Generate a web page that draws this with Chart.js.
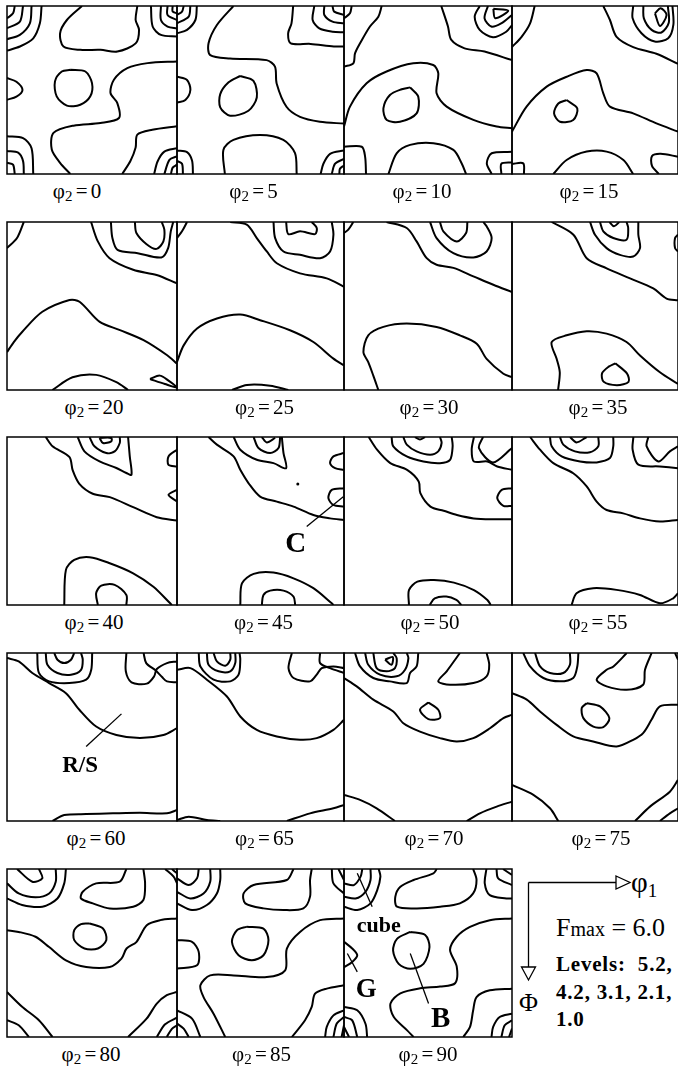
<!DOCTYPE html>
<html>
<head>
<meta charset="utf-8">
<title>ODF sections</title>
<script src="https://cdn.jsdelivr.net/npm/chart.js@4.4.0/dist/chart.umd.min.js"></script>
<style>
  body { margin: 0; background: #fff; }
  #page { position: relative; width: 678px; height: 1070px; overflow: hidden; font-family: "Liberation Serif", "Times New Roman", serif; color: #000; }
  .panel { position: absolute; }
  .cap { position: absolute; font-size: 21px; line-height: 21px; text-align: center; white-space: nowrap; word-spacing: -2px; }
  .cap sub { font-size: 15px; line-height: 0; vertical-align: -3px; }
  .note { position: absolute; font-weight: bold; line-height: 1; white-space: nowrap; transform: translate(-50%, -50%); }
  .legend { position: absolute; white-space: nowrap; line-height: 1; }
</style>
</head>
<body>
<div id="page">
  <svg width="678" height="1070" style="position:absolute;left:0;top:0">
    <g stroke="#000" stroke-width="1.3" fill="#fff">
      <line x1="528.5" y1="882.5" x2="616" y2="882.5"/>
      <polygon points="616,876 630,882.5 616,889"/>
      <line x1="528.5" y1="882.5" x2="528.5" y2="967"/>
      <polygon points="521.5,967 528.5,980 535.5,967"/>
    </g>
  </svg>
  <div class="legend" style="left:631px;top:868px;font-size:29px">φ<span style="font-size:19px;position:relative;top:5px">1</span></div>
  <div class="legend" style="left:556px;top:915px;font-size:26px">F<span style="font-size:20px">max</span> = <span id="fmax"></span></div>
  <div class="legend" id="levels" style="left:556px;top:951px;font-size:21px;font-weight:bold;line-height:27.5px;letter-spacing:0.8px"></div>
  <div class="legend" style="left:519px;top:990px;font-size:26px">Φ</div>
</div>
<script>
// constant-φ2 sections, step 5°
const phi2Sections = [0, 5, 10, 15, 20, 25, 30, 35, 40, 45, 50, 55, 60, 65, 70, 75, 80, 85, 90];
const fMax = 6.0;
const levels = [5.2, 4.2, 3.1, 2.1, 1.0];

// iso-lines per section, each one a flat list of φ1, Φ pairs (degrees)
const sec0 = [
    [18.3,0, 17.4,9.3, 13.9,17.3, 6.8,21.7, 0,23.9],
    [13,0, 12.1,9.3, 6.8,15.5, 0,17.8],
    [8.5,0, 6.8,8.4, 0,11.9],
    [4.1,0, 3.2,3.9, 0,6.6],
    [39.7,0, 31.7,7.5, 28.1,14.6, 29.9,21.7, 38.8,23.5, 49.5,23.5, 58.4,24.4, 68.1,20, 69.9,12.8, 68.1,7.5, 69,0],
    [76.2,0, 77.1,11, 81.5,15.5, 90,16.4],
    [81.5,0, 81.5,7.5, 85,11, 90,12],
    [85,0, 85,4.8, 90,7.5],
    [87.7,0, 87.7,3, 90,3.9],
    [0,38.6, 5,40.6, 8.2,45, 5,48.6, 0,50.2],
    [33.5,34.2, 41.5,35.1, 45,41.3, 44.1,48.4, 38.8,52.9, 31.7,53.4, 26.3,48.4, 25.4,40.4, 29,35.1, 33.5,34.2],
    [90,29.7, 74.4,30.6, 63.7,33.3, 56.6,39.5, 54.8,46.6, 58.4,52, 59.3,60, 49.5,62.7, 35.2,64.1, 24.6,68, 23.7,76.9, 28.1,84, 33.5,90],
    [90,64.4, 76.9,66.3, 69,68.9, 68.1,75.8, 65.4,82.9, 61,90],
    [0,69.8, 8.5,70.8, 13,76.2, 13.9,90],
    [0,77.7, 5.9,78.6, 8.5,83.1, 8.9,90],
    [0,84, 3.2,85, 4.1,90],
    [90,76.2, 83.3,78, 79.7,83.3, 77.9,90],
    [90,80.6, 86,82.4, 83.3,90],
    [90,85, 87.7,86.6, 86.8,90]
];
const sec5 = [
    [10.7,0, 9.9,7.5, 5.4,12.8, 0,14.6],
    [7.2,0, 6.3,5.7, 0,9.3],
    [3.6,0, 2.7,3, 0,4.8],
    [30.4,0, 21.5,10.2, 17,20, 17.9,26.3, 28.6,28.1, 48.3,29, 52.8,32.5, 53.7,41.5, 59,54, 66.3,59.4, 77,62, 90,63],
    [62.6,0, 61.7,9.3, 59.9,14.6, 61.3,20, 72,20.3, 84.5,21.7, 90,21.7],
    [74,0, 73.1,7.5, 76.7,12, 83.8,13.8, 90,14.1],
    [79.4,0, 79.4,4.8, 83.8,8.4, 90,9.3],
    [83.8,0, 84.7,3, 90,4.8],
    [0,37.9, 5.4,39.6, 7.2,45, 4.5,50.4, 0,51.8],
    [34,37.5, 41.2,40.1, 43,49, 38.5,56.1, 28.6,58.8, 23.3,54.3, 23.3,47.2, 27.8,40.9, 34,37.5],
    [25.8,90, 25,77.1, 30.4,71.7, 44.8,69.1, 57.3,71.7, 63.6,78.8, 64.5,90],
    [0,77.4, 5.4,78.3, 8.1,82.8, 8.6,90],
    [0,83, 2.7,84.5, 3.2,90],
    [90,77.4, 82.5,79.2, 78.9,84.5, 77.4,90],
    [90,81.9, 85.2,84.5, 83.4,90],
    [90,85.4, 87.8,87.2, 87.5,90]
];
const sec10 = [
    [20.2,0, 18.4,5.7, 13.9,11, 8.6,20, 5.9,25.4, 5,30.7, 0,32.5],
    [4.1,0, 3.2,3.9, 0,6.6],
    [52.1,0, 55.7,11, 57.5,18.2, 64.6,22.7, 75.3,24.4, 90,29],
    [72.7,0, 70,5.7, 72.7,12.8, 79.8,16.8, 86.9,13.8, 90,10.2],
    [77.1,0, 75.3,6.6, 78.9,11, 84.2,9.3, 90,4.8],
    [80,1.5, 81,6.5, 88,2.5, 80,1.5],
    [0,64.6, 3.2,53.9, 12.1,41.4, 22.8,35.1, 37.1,30.7, 47.8,31.6, 50.5,36, 49.6,46.8, 55,53.9, 69.3,61, 81.8,64.6, 90,65.5],
    [35.4,43.6, 39.8,48.6, 38.9,57.5, 30,62, 22.9,61.1, 21.1,54.9, 24.6,47.7, 30.9,44.6, 35.4,43.6],
    [23.8,90, 28.2,78.9, 35.4,74.4, 47.9,73.5, 58.6,77.1, 63,84.2, 65.4,90],
    [0,75.4, 9.5,75.4, 11.3,80.7, 11.8,90],
    [90,78.1, 79.1,78.9, 76.5,84.2, 79.1,90],
    [84.3,90, 84.3,84.5, 90,83.8]
];
const sec15 = [
    [12.3,0, 9.8,9.3, 5.2,16.5, 0,22],
    [49.5,0, 53.1,7.5, 56.7,16.5, 65.7,22, 78.3,25.6, 90,31],
    [65.7,0, 65.4,6.6, 70.2,14.6, 77.4,19, 84.7,17.3, 87.5,10, 87,0],
    [71.2,0, 71.5,6.6, 75.7,12.8, 81,14.2, 85,9, 84.5,0],
    [77.5,3.9, 80.2,10.7, 83.8,4.8, 80.6,1.2, 77.5,3.9],
    [0,67.3, 7.9,53.9, 18.8,43.2, 29.6,37.9, 40.5,34.3, 45.9,36.1, 49.5,46.8, 53.1,53.9, 65.7,57.5, 78.3,62.9, 90,67.3],
    [29.6,50.4, 35.4,54.9, 33.2,61.1, 26,62, 22.8,57.5, 25.1,52.2, 29.6,50.4],
    [22.4,90, 29.6,82.5, 40.5,78, 51.3,78, 60.4,82.5, 65.7,90],
    [0,84.6, 6.1,84.3, 6.5,90],
    [90,80.7, 80.6,79.2, 75.9,80.4, 75.9,85.7, 79.6,90]
];
const sec20 = [
    [8.9,0, 5.3,8.6, 0,14],
    [44.5,0, 48.1,10.4, 54.3,19.4, 66.8,25.6, 79.2,28.4, 90,32.9],
    [55,0, 55.8,8.6, 58.5,14.9, 69.2,16.7, 81.7,19, 85.3,14, 86.7,5, 88,0],
    [67.7,0, 68.5,5.9, 73.9,11.9, 79.2,14.4, 82.8,10.4, 83.3,4.1, 81.9,0],
    [0,69.7, 3.6,64.3, 8,58.9, 18.7,48.1, 33.1,41.8, 38.4,42.7, 49.1,53.5, 59.8,57.9, 72.3,63.3, 84.8,71.4, 90,75.9],
    [24,90, 34.7,83.2, 47.2,81.9, 57.9,85.8, 64.1,90],
    [75.7,84.1, 80.9,82.3, 85.5,85, 89.9,88.6, 83.6,86.8, 75.7,84.1]
];
const sec25 = [
    [5.4,0, 2.7,5, 0,8.6],
    [28.7,0, 37.6,1.4, 43,8.6, 48.4,15.8, 53.8,22.1, 66.3,27.5, 80.7,30.2, 90,34.7],
    [52,0, 52.9,8.6, 57.4,15.8, 66.3,17.6, 77.1,19.4, 82.5,15.8, 84.3,6.8, 83.4,0],
    [58.8,0, 60,6.5, 66.3,5, 74.4,6.5, 75.3,3.2, 72.6,0],
    [0,75, 3.6,66.1, 10.8,57.1, 21.5,51.7, 34.1,49.6, 44.8,52.6, 60.9,58, 73.5,64.3, 84.3,73.2, 90,76.8],
    [29.6,90, 37.7,87.3, 50.2,87.7, 60,90]
];
const sec30 = [
    [5,0, 2.3,4.1, 0,5.9],
    [22.8,0, 33.6,3.2, 38.9,10.4, 44.3,19.4, 49.6,22.9, 58.6,24.6, 69.3,29.1, 80,33.6, 90,37.5],
    [46.1,0, 49.6,8.6, 58.6,16.7, 69.3,19, 76.4,15.8, 79.1,8.6, 76.4,2.3, 74.6,0],
    [51.4,0, 53.2,5, 60.4,10.4, 65.4,5.9, 66.1,0],
    [18.4,90, 15.7,82.3, 13,75.1, 10.4,69.7, 13,60.7, 21.1,56.2, 33.6,54.4, 49.6,56.2, 62.1,60.7, 71.1,65.2, 76.4,73.3, 85.4,81.3, 90,83.1]
];
const sec35 = [
    [21.5,0, 33.3,6.8, 40.5,19.4, 51.3,24.8, 64,30.2, 76.6,35.6, 83.8,41, 90,41.9],
    [42.3,0, 45,6.8, 51.3,14, 58.5,17.6, 65.7,18.5, 69.4,14, 68.5,6.8, 68.5,0],
    [47.7,0, 49.5,5, 54.9,8.6, 62.1,9.5, 63,3.2, 62.1,0],
    [52.8,0, 55.3,2.3, 58.2,0],
    [90,6.8, 88.4,8.6, 88.4,14, 90,15.8],
    [25,90, 25.9,80.5, 24.2,73.3, 21.5,64.3, 29.6,60.7, 40.5,58.5, 51.3,59.8, 62.1,64.3, 69.4,71.5, 80.2,80.5, 90,86.8],
    [56,75.7, 62.3,81.1, 63.2,85.6, 56.9,87.4, 49.7,85.6, 48.8,81.1, 52.4,77.5, 56,75.7]
];
const sec40 = [
    [20.5,0, 24.1,5, 33,10.7, 34.8,17.9, 38.3,25.1, 45.4,30.4, 54.4,32.2, 66.8,37.6, 79.3,43, 90,44.8],
    [37.4,0, 41,7.7, 49,13.1, 57.9,16.6, 63.2,19.3, 65.9,20.2, 65,10.4, 64.1,0],
    [43.7,0, 46.3,5, 52.6,8.6, 57,7.7, 59.7,3.2, 59.7,0],
    [49,0.5, 50.8,3.2, 55.2,2.3, 55.2,0.5, 49,0.5],
    [90,6.8, 85.5,10.4, 85.5,14.9, 90,15.8],
    [90,28.3, 85.5,31, 90,34.5],
    [30.3,90, 31.2,71.2, 35.6,65.8, 43.7,64.4, 54.4,67.6, 66.8,73, 77.5,80.2, 86.4,89.1, 87.3,90],
    [48.1,90, 47.2,83.7, 49.9,79.6, 57,79.2, 63.2,84.6, 63.2,90]
];
const sec45 = [
    [17,0, 21.5,4.1, 30.5,10.4, 34.1,17.6, 38.6,24.8, 44.8,31.9, 53.8,34.6, 62.8,37.3, 73.5,41.8, 82.5,43.6, 90,44.5],
    [30.5,0, 34.1,6.8, 43,12.2, 52,14, 58.8,16.7, 57.4,8.6, 56.5,0],
    [41.3,0, 43.9,5.9, 50.2,8.6, 54.7,5.9, 55.6,0],
    [45.7,0, 48.4,2.9, 52.9,0.5],
    [90,8.6, 84.3,10.4, 82.5,14, 85.2,16.7, 90,17.6],
    [90,27.4, 83.4,28.3, 81.6,32.8, 84.3,36.4, 90,37.3],
    [34.1,90, 35,78.4, 41.3,73.3, 52,72.6, 62.8,75.7, 73.5,81, 83.4,89.1, 84.3,90],
    [45.7,90, 46.6,84.6, 50.2,82.3, 57.4,82.3, 62.8,85.5, 63.7,90]
];
const sec50 = [
    [13.2,0, 17.7,6.8, 24.8,14, 33.8,17.6, 40,23.8, 40.9,30.1, 46.3,37.3, 53.4,39.5, 60.5,41.8, 69.5,43.6, 80.2,44.1, 90,44.1],
    [25.5,0, 26.4,5, 33.6,10.4, 42.5,13.1, 51.4,14, 56.8,12.2, 58.2,5, 57.7,0],
    [31.8,0, 33.6,4.1, 38.9,7.7, 46.1,9.5, 50.5,7.7, 52.3,3.2, 51.4,0],
    [38,0, 40.7,1.4, 43.4,0],
    [69.6,0, 68.4,6.8, 69.6,13.1, 76.8,13.1, 82.1,15.8, 90,17.6],
    [74.5,0, 72.3,5.9, 79.8,13.6, 90,5.9],
    [90,27.4, 84.5,28.3, 82.1,32.8, 85.4,36.9, 90,36.9],
    [34.8,90, 34.8,82, 39.3,77.5, 48.2,76.6, 58.9,78, 69.6,82, 76.8,87.3, 78.6,90],
    [45.9,90, 48.6,86.4, 54.8,85.5, 60.2,87.3, 62.9,90]
];
const sec55 = [
    [9.8,0, 15.2,6.8, 22.4,14, 33.2,19.4, 40.5,26.5, 45.9,34.6, 51.3,39.1, 60.3,40.9, 69.4,43.6, 80.2,45.3, 90,44.4],
    [20.6,0, 21.5,5, 26.9,10.4, 36.9,13.1, 45.9,13.6, 53.1,11.3, 54.9,5, 54.9,0],
    [26,0, 27.8,4.1, 34.1,7.7, 42.3,8.2, 46.8,5, 46.8,0],
    [31.4,0, 35,2.9, 40.5,0],
    [65.8,0, 65.4,6.8, 68.5,14.8, 80.2,15.8, 90,16.7],
    [73.9,0, 73,5, 79.3,13.1, 85.6,7.7, 90,5],
    [32.3,90, 35,83.7, 44,81, 56.7,81.9, 69.4,84.6, 80.2,89.1, 87.4,86.4, 90,83.7]
];
const sec60 = [
    [0,2.7, 6.2,4.5, 13.4,10.7, 22.3,16.1, 31.2,21.5, 38.3,30.4, 47.2,39.4, 57.9,43.9, 70.4,45.6, 82.8,43.9, 90,40.3],
    [16,0, 16.9,10.7, 22.3,15.2, 33,16.1, 41.9,14.3, 44.6,9, 45.1,0],
    [20.5,0, 21.4,6.3, 26.7,10.7, 33.9,11.6, 39.2,9, 40.1,3.6, 39.2,0],
    [25,0, 26.7,3.6, 30.3,5.4, 33.9,3.6, 35.6,0],
    [63.2,0, 62.9,9.8, 65.9,15.7, 74,16.4, 77.9,12.5, 79.3,8.6, 84.7,5.4, 90,4.5],
    [72.3,0, 73.7,5.4, 78.6,9.3, 82.1,12.9, 84.7,15.2, 90,15.7],
    [24.1,90, 30.3,86.8, 41.9,86.3, 56.1,85.9, 70.4,85.6, 84.7,85.9, 90,84.1]
];
const sec65 = [
    [0,9, 7.2,8.1, 16.1,14.3, 26.9,23.3, 34.1,34, 43,41.2, 53.8,44.7, 66.3,46.5, 75.3,45.6, 84.3,41.2, 90,35.8],
    [11.7,0, 12.6,7.2, 19.7,14.3, 28.7,15.2, 33.2,11.6, 34.1,3.6, 33.7,0],
    [16.1,0, 17,6.3, 22.4,9.8, 28.7,9.8, 31.4,5.4, 31.4,0],
    [19.7,0, 21.5,4.5, 26,6.8, 28.7,3.6, 28.7,0],
    [61.9,0, 60.1,8.1, 62.8,13.4, 71.7,15.2, 75.3,11.6, 78,8.1, 84.3,7.2, 90,8.1],
    [77.1,0, 77.1,5.4, 82.5,8.1, 90,10.7],
    [0,89.5, 6.3,87.7, 16.1,89.5, 23.3,90],
    [59.2,90, 71.7,85.9, 84.3,83.2, 90,81.4]
];
const sec70 = [
    [0,13.4, 6.8,17.9, 15.7,25, 26.4,31.3, 31.8,37.6, 40.7,42.1, 51.4,45.6, 60.4,47.4, 69.3,45.6, 78.2,40.3, 85.4,34.9, 90,33.1],
    [5.9,0, 8.6,7.2, 15.7,13.4, 24.6,15.2, 33.6,16.1, 35.4,10.7, 38.9,7.2, 39.8,0],
    [11.3,0, 13,6.3, 19.3,11.6, 28.2,12.5, 32.7,9, 34.5,2.7, 33.6,0],
    [15.7,0, 17.5,8.1, 22.9,9.8, 27.3,8.1, 28.2,2.7, 26.4,0],
    [22,3.6, 26.1,2.1, 25.5,6.3, 22,3.6],
    [62.1,0, 55,9.8, 50.5,15.2, 56.8,17, 69.3,16.1, 76.4,12.5, 77.8,6.3, 76.4,0],
    [45.2,26.5, 50.5,30.4, 51.4,34.9, 45.2,35.4, 40.7,30.4, 45.2,26.5],
    [0,76, 8.6,78.7, 17.5,83.2, 27.3,90],
    [65.7,90, 72.8,85.9, 81.8,82.3, 90,79.6]
];
const sec75 = [
    [0,21.5, 8,25, 15.2,31.3, 24.2,38.5, 33.2,44.7, 44,47.4, 56.7,50.1, 65.7,46.5, 71.1,42.9, 75.6,35.8, 80.2,28.6, 90,27.7],
    [6.1,0, 9.8,7.2, 17,13.4, 26,15.2, 33.2,13.4, 35.4,7.2, 36,0],
    [12.5,0, 15.2,7.2, 20.6,10.7, 27.8,10.7, 31.4,6.3, 31.4,0],
    [62.2,0, 55,7.2, 51.3,9, 45.9,14.3, 51.3,17.9, 62.2,19.7, 71.1,17, 72.1,9, 75.7,0],
    [88.4,0, 90,3.6],
    [40.5,26.9, 47.7,28.6, 52.8,34.9, 49.5,39.7, 44.1,39.4, 38.7,34.9, 37.8,29.5, 40.5,26.9],
    [0,70.7, 11.6,76, 20.6,83.2, 25.1,90],
    [66.7,90, 74.8,82.3, 85.6,74.3, 90,68],
    [80.2,90, 85.6,85.9, 90,83.2]
];
const sec80 = [
    [0,15.8, 8,19.3, 18.7,20.2, 26.7,15.8, 30.3,7.7, 31.2,0],
    [0,7.7, 6.2,13.1, 15.1,15.2, 22.3,13.1, 25.8,6.8, 25.8,0],
    [5.3,0, 13.4,6.8, 18.7,5, 16.9,0],
    [63.2,0, 59.7,6.8, 47.2,7.7, 40.1,12.2, 39.2,15.8, 45.4,18.4, 54.4,21.1, 66.8,20.2, 72.2,16.6, 73.1,7.7, 72.2,0],
    [83.7,0, 88.2,4.1, 90,7.7],
    [87.3,0, 90,2.3],
    [43.7,29.2, 50.8,31.9, 52.6,38.1, 48.1,42.6, 41,42.6, 35.6,38.1, 35.6,32.8, 39.2,29.5, 43.7,29.2],
    [0,32.8, 6.2,33.7, 15.1,36.3, 22.3,41.8, 31.2,48.9, 41.9,52.5, 54.4,52.5, 60.6,48, 63.3,42.6, 68.6,39, 74,30.1, 81.1,27.4, 90,26.5],
    [0,65.9, 8,73.8, 16.9,81, 24.1,90],
    [0,81, 6.2,83.7, 11.6,90],
    [64.1,90, 73.9,80.2, 79.3,72.1, 84.6,67.6, 90,65.9],
    [79.3,90, 83.7,83.2, 90,79.6],
    [84.6,90, 87.3,85.6, 90,83.7]
];
const sec85 = [
    [0,18.4, 8.1,22, 16.1,19.3, 21.5,13.1, 23.3,5.9, 23.3,0],
    [0,12.2, 7.2,15.8, 14.3,13.1, 17.9,6.8, 17.9,0],
    [0,5, 6.3,8.6, 10.8,5, 11.7,0],
    [62.8,0, 59.2,5.9, 41.3,8.6, 35.9,13.1, 36.8,18.4, 46.6,21.1, 57.4,22, 68.1,21.1, 71.7,14.8, 71.7,5.9, 72.6,0],
    [83.4,0, 84.3,7.7, 90,13.1],
    [87,0, 90,5.9],
    [37.7,30.9, 46.6,31.9, 49.3,38.1, 46.6,46.2, 40.3,48.9, 33.2,46.2, 29.6,39, 32.3,32.8, 37.7,30.9],
    [0,38.1, 8.1,39, 11.7,44.4, 10.8,51.6, 0,53.3],
    [90,26.5, 77.1,27.4, 66.3,33.7, 59.2,42.6, 58.3,54.3, 48.4,57.9, 30.5,57, 17.9,57, 12.6,62.3, 14.3,68.6, 19.7,77.5, 26,90],
    [90,62.3, 80.7,64.1, 74.4,66.8, 72.6,73.9, 69,81, 61.9,90],
    [0,75.7, 8.1,80.2, 12.6,90],
    [0,82.8, 3.6,85.5, 6.3,90],
    [90,75.7, 84.3,78.4, 80.7,84.6, 79.8,90],
    [90,79.3, 86.1,82.8, 84.3,90],
    [90,83.7, 88.7,90]
];
const sec90 = [
    [0,20.2, 7.1,22, 14.2,18.4, 17.8,11.3, 19.5,4.1, 18.6,0],
    [0,14.8, 6.2,15.8, 11.5,12.2, 14.2,5.9, 14.2,0],
    [0,7.7, 5.3,8.6, 8.9,4.1, 9.8,0],
    [49.7,0, 47.9,2.3, 37.3,5.9, 30.2,9.5, 27.5,14.8, 28.4,20.2, 39.1,21.1, 51.5,20.2, 62.1,18.4, 69.2,13.1, 71,5.9, 69.2,0],
    [76.3,0, 75.4,7.7, 78.1,14, 87,15.8, 90,15.8],
    [81.7,0, 82.6,5, 90,8.6],
    [85.2,0, 90,3.2],
    [35.5,33.7, 43.5,35.4, 45.8,41.8, 42.6,50.8, 35.5,53.5, 29.3,50.8, 26.3,43.7, 28.4,37.4, 35.5,33.7],
    [90,26.5, 78.1,27.4, 67.5,31, 60.4,36.3, 56.8,43.3, 60.4,52.3, 59.5,61.2, 51.5,63, 40.8,63.9, 30.2,66.6, 24.9,72, 26.6,79.2, 33.7,86.3, 37.3,90],
    [90,64.1, 78.1,65, 71,68.6, 69.2,75.7, 67.5,84.6, 63.9,90],
    [0,39, 4.4,42.6, 7.1,46.2, 4.4,49.8, 0,52.6],
    [0,73.9, 7.1,75.7, 11.5,82.9, 12.4,90],
    [0,79.3, 4.4,81.1, 7.1,90],
    [0,84.6, 2.7,90],
    [90,77.5, 83.4,79.3, 79.9,84.6, 79,90],
    [90,81.1, 86.1,83.7, 84.3,90],
    [90,85.5, 88.4,90]
];
const sections = [sec0, sec5, sec10, sec15, sec20, sec25, sec30, sec35, sec40, sec45,
                  sec50, sec55, sec60, sec65, sec70, sec75, sec80, sec85, sec90];

// component markers: leader lines, labels and the stray dot at φ2 = 45
const leaders45 = [[69.9,48, 89.6,32]];
const leaders60 = [[41.9,50.1, 60.6,32.6]];
const leaders90 = [[7.1,2.3, 15.1,20.2], [1.8,45.3, 7.1,55.1], [35.5,45.3, 45.3,72.1]];
const notes45 = [['C', 64, 56, 29]];
const notes60 = [['R/S', 38.7, 59.4, 23]];
const notes90 = [['cube', 18.6, 30, 22], ['G', 11.9, 63.5, 27], ['B', 51.8, 79.3, 29]];
const dots45 = [[65.1, 25.2]];

// page layout (px)
const colX = [7, 177, 344, 512];
const colW = [170, 167, 168, 166];
const rowY = [6, 222, 437, 653, 869];
const panelH = 168;
const capShift = [-15, -7, -6, -6, 2, 4, 1, 3, 2, 3, 2, 3, 4, 4, 6, 6, -1, 1, 0];

const page = document.getElementById('page');

function toPoints(flat) {
    const pts = [];
    for (let i = 0; i < flat.length; i += 2) pts.push({ x: flat[i], y: flat[i + 1] });
    return pts;
}

// draw the section frame around the plot area
const framePlugin = {
    id: 'frame',
    afterDraw(chart) {
        const { ctx, chartArea: a } = chart;
        ctx.save();
        ctx.strokeStyle = '#000';
        ctx.lineWidth = 1.5;
        ctx.strokeRect(a.left, a.top, a.right - a.left, a.bottom - a.top);
        ctx.restore();
    }
};

function lineSet(flat, width) {
    return {
        data: toPoints(flat),
        showLine: true,
        borderColor: '#000',
        borderWidth: width,
        pointRadius: 0,
        tension: 0.3,
        fill: false
    };
}

function makeSection(i) {
    const col = i % 4;
    const row = Math.floor(i / 4);
    const pad = 2;
    const left = colX[col] - pad;
    const top = rowY[row] - pad;
    const w = colW[col] + pad * 2;
    const h = panelH + pad * 2;

    const box = document.createElement('div');
    box.className = 'panel';
    box.style.left = left + 'px';
    box.style.top = top + 'px';
    const canvas = document.createElement('canvas');
    canvas.width = w;
    canvas.height = h;
    canvas.style.width = w + 'px';
    canvas.style.height = h + 'px';
    box.appendChild(canvas);
    page.appendChild(box);

    const phi2 = phi2Sections[i];
    const datasets = sections[i].map(line => lineSet(line, 2));
    let leaders = [], notes = [], dots = [];
    if (phi2 === 45) { leaders = leaders45; notes = notes45; dots = dots45; }
    if (phi2 === 60) { leaders = leaders60; notes = notes60; }
    if (phi2 === 90) { leaders = leaders90; notes = notes90; }
    leaders.forEach(l => {
        const ds = lineSet(l, 1.3);
        ds.tension = 0;
        datasets.push(ds);
    });
    if (dots.length) {
        datasets.push({
            data: dots.map(d => ({ x: d[0], y: d[1] })),
            showLine: false,
            pointRadius: 1.5,
            pointBackgroundColor: '#000',
            pointBorderWidth: 0
        });
    }

    const chart = new Chart(canvas, {
        type: 'scatter',
        data: { datasets },
        options: {
            responsive: false,
            animation: false,
            events: [],
            layout: { padding: pad, autoPadding: false },
            plugins: { legend: { display: false }, tooltip: { enabled: false } },
            scales: {
                x: { type: 'linear', min: 0, max: 90, display: false },
                y: { type: 'linear', min: 0, max: 90, reverse: true, display: false }
            }
        },
        plugins: [framePlugin]
    });

    // labels for the marked components, placed through the chart scales
    notes.forEach(([text, x, y, size]) => {
        const el = document.createElement('div');
        el.className = 'note';
        el.textContent = text;
        el.style.fontSize = size + 'px';
        el.style.left = (left + chart.scales.x.getPixelForValue(x)) + 'px';
        el.style.top = (top + chart.scales.y.getPixelForValue(y)) + 'px';
        page.appendChild(el);
    });

    // section caption
    const cap = document.createElement('div');
    cap.className = 'cap';
    cap.innerHTML = 'φ<sub>2</sub> = ' + phi2;
    cap.style.left = (colX[col] + capShift[i]) + 'px';
    cap.style.width = colW[col] + 'px';
    cap.style.top = (rowY[row] + panelH + 25 - 18) + 'px';
    page.appendChild(cap);
}

phi2Sections.forEach((_, i) => makeSection(i));

document.getElementById('fmax').textContent = fMax.toFixed(1);
const lv = levels.map(v => v.toFixed(1));
document.getElementById('levels').innerHTML =
    'Levels:&nbsp; ' + lv[0] + ',<br>' + lv.slice(1, 4).join(', ') + ',<br>' + lv[4];
</script>
</body>
</html>
